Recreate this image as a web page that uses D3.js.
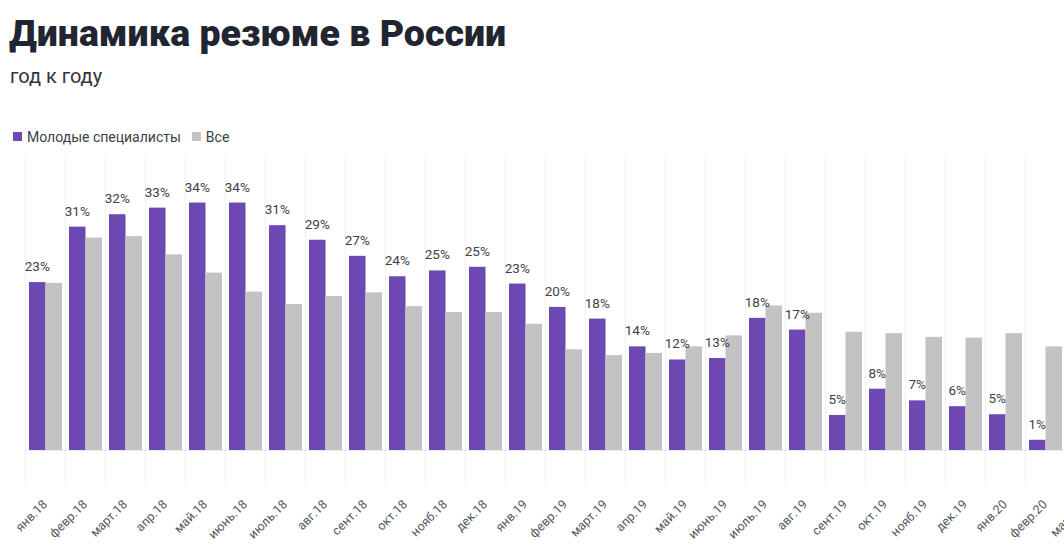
<!DOCTYPE html>
<html>
<head>
<meta charset="utf-8">
<script src="https://cdn.jsdelivr.net/npm/d3@7"></script>
<style>
  html, body { margin: 0; padding: 0; background: #fff; overflow: hidden; }
  svg { display: block; font-family: Roboto, "Noto Sans", sans-serif; }
</style>
</head>
<body>
<script>
// months (the last one runs past the right edge, like in the original)
const months = ["янв.18","февр.18","март.18","апр.18","май.18","июнь.18","июль.18","авг.18","сент.18",
  "окт.18","нояб.18","дек.18","янв.19","февр.19","март.19","апр.19","май.19","июнь.19","июль.19",
  "авг.19","сент.19","окт.19","нояб.19","дек.19","янв.20","февр.20","март.20"];

// % growth, young specialists
const young = [23.0, 30.6, 32.3, 33.2, 33.9, 33.9, 30.8, 28.8, 26.6, 23.8, 24.6, 25.1, 22.8, 19.6,
  18.0, 14.2, 12.4, 12.6, 18.1, 16.5, 4.8, 8.4, 6.8, 6.0, 4.9, 1.4, 2.0];
// % growth, all
const all = [22.9, 29.1, 29.3, 26.8, 24.3, 21.7, 20.0, 21.1, 21.6, 19.7, 18.9, 18.9, 17.3, 13.8,
  13.0, 13.3, 14.2, 15.7, 19.8, 18.8, 16.2, 16.0, 15.5, 15.4, 16.0, 14.2, 14.0];

const seriesKeys = ["young", "all"];
const seriesNames = ["Молодые специалисты", "Все"];
const colors = {young: "#6e49b4", all: "#c3c3c3"};

const width = 1110, height = 545;
const svg = d3.select("body").append("svg")
  .attr("width", width)
  .attr("height", height);

// title + subtitle
svg.append("text")
  .attr("x", 9).attr("y", 46)
  .attr("font-size", 37.5).attr("font-weight", 900)
  .attr("fill", "#1f2632")
  .text("Динамика резюме в России");
svg.append("text")
  .attr("x", 10).attr("y", 83)
  .attr("font-size", 20)
  .attr("fill", "#2f3540")
  .text("год к году");

// legend
const legend = svg.append("g").attr("transform", "translate(13,137)");
let lx = 0;
seriesKeys.forEach((k, i) => {
  const g = legend.append("g").attr("transform", `translate(${lx},0)`);
  g.append("rect").attr("x", 0).attr("y", -5).attr("width", 9).attr("height", 9).attr("fill", colors[k]);
  const t = g.append("text").attr("x", 14).attr("y", 5)
    .attr("font-size", 14).attr("fill", "#3a3f4a").text(seriesNames[i]);
  lx += 14 + t.node().getComputedTextLength() + 11;
});

// scales
const x0 = d3.scaleBand().domain(months).range([25, 25 + 40 * months.length]);
const x1 = d3.scaleBand().domain(seriesKeys).range([4, 37]);
const y = d3.scaleLinear().domain([0, 40]).range([450, 158]);

// vertical separators
svg.append("g").selectAll("line")
  .data(months)
  .join("line")
  .attr("x1", d => x0(d) + 0.5).attr("x2", d => x0(d) + 0.5)
  .attr("y1", 155).attr("y2", 486)
  .attr("stroke", "#f1f1f4").attr("stroke-width", 1);

// baseline
svg.append("line")
  .attr("x1", 25).attr("x2", width)
  .attr("y1", y(0) + 0.5).attr("y2", y(0) + 0.5)
  .attr("stroke", "#ecebf2");

const rows = months.map((m, i) => ({month: m, young: young[i], all: all[i]}));

const groups = svg.append("g").selectAll("g")
  .data(rows)
  .join("g")
  .attr("transform", d => `translate(${x0(d.month)},0)`);

groups.selectAll("rect")
  .data(d => seriesKeys.map(k => ({key: k, value: d[k]})))
  .join("rect")
  .attr("x", d => x1(d.key))
  .attr("width", x1.bandwidth())
  .attr("y", d => y(d.value))
  .attr("height", d => y(0) - y(d.value))
  .attr("fill", d => colors[d.key]);

// value labels over the purple bars
groups.append("text")
  .attr("x", x1("young") + x1.bandwidth() / 2)
  .attr("y", d => y(d.young) - 11)
  .attr("text-anchor", "middle")
  .attr("font-size", 13.5)
  .attr("fill", "#3d424c")
  .text(d => Math.round(d.young) + "%");

// month labels, rotated
svg.append("g").selectAll("text")
  .data(months)
  .join("text")
  .attr("transform", d => `translate(${x0(d) + x0.bandwidth() / 2 + 3},${505}) rotate(-45)`)
  .attr("text-anchor", "end")
  .attr("font-size", 12.5)
  .attr("fill", "#555a62")
  .text(d => d);
</script>
</body>
</html>
